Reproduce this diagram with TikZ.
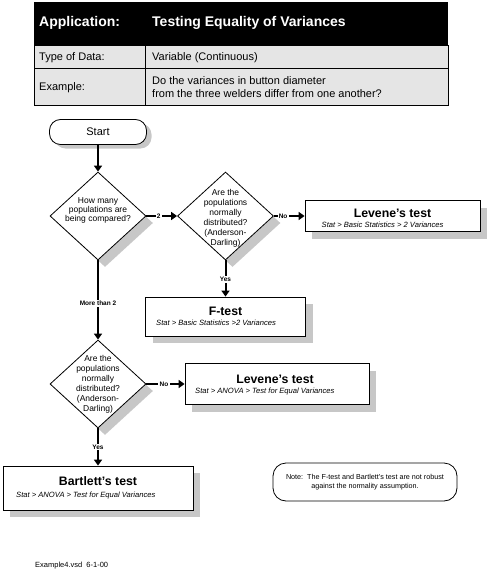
\documentclass[tikz,border=0pt]{standalone}
\usepackage{fontspec}
\setmainfont{Liberation Sans}
\usetikzlibrary{shapes.geometric,arrows.meta,shadows}
\newcommand{\sq}{\char"27\relax}
\begin{document}
\begin{tikzpicture}[x=1pt,y=-1pt,
  hdr/.style={text=white,font=\bfseries\fontsize{14}{16}\selectfont,inner sep=0pt},
  rowtxt/.style={font=\fontsize{11}{13.5}\selectfont,inner sep=0pt,align=left},
  shad/.style={general shadow={fill=black!22,shadow xshift=7pt,shadow yshift=-7pt}},
  startbox/.style={draw,fill=white,line width=0.8pt,rounded corners=11pt,minimum width=97pt,minimum height=25pt,inner sep=0pt,
     font=\fontsize{11}{13}\selectfont,general shadow={fill=black!22,shadow xshift=5pt,shadow yshift=-4pt}},
  dia/.style={diamond,draw,fill=white,line width=0.8pt,minimum width=96pt,minimum height=88pt,inner sep=0pt,shad},
  diatxt/.style={font=\fontsize{8.5}{10}\selectfont,align=center,inner sep=0pt},
  resbox/.style={draw,fill=white,line width=0.8pt,inner sep=0pt,shad},
  ttl/.style={font=\bfseries\fontsize{12.3}{14}\selectfont,inner sep=0pt,anchor=base},
  sub/.style={font=\itshape\fontsize{7.6}{9}\selectfont,inner sep=0pt,anchor=base west},
  lbl/.style={font=\bfseries\fontsize{6.5}{7}\selectfont,fill=white,inner sep=1.2pt},
  arr/.style={line width=2pt,-{Triangle[length=6pt,width=8pt]}},
  notebox/.style={draw,line width=0.8pt,rounded corners=13pt,minimum width=184pt,minimum height=38pt,inner sep=0pt,
     align=center,font=\fontsize{7.2}{8.5}\selectfont}
]
\useasboundingbox (0,0) rectangle (490,575);

% header table
\fill[black] (34,2) rectangle (448,45);
\filldraw[fill=black!10,draw=black,line width=0.8pt] (34,45) rectangle (448,68);
\filldraw[fill=black!10,draw=black,line width=0.8pt] (34,68) rectangle (448,105);
\draw[line width=0.8pt] (145.7,45) -- (145.7,105);
\node[hdr,anchor=base west] (happ) at (39,27) {Application:};
\node[hdr,anchor=base west] (htitle) at (152,27) {Testing Equality of Variances};
\node[rowtxt,anchor=base west] (ltype) at (39,60.5) {Type of Data:};
\node[rowtxt,anchor=base west] (vtype) at (152,60.5) {Variable (Continuous)};
\node[rowtxt,anchor=base west] (lex) at (39,90.5) {Example:};
\node[rowtxt,anchor=west] (vex) at (152,87) {Do the variances in button diameter\\from the three welders differ from one another?};

% flowchart
\node[startbox] (start) at (98,132) {Start};
\node[dia] (d1) at (98,216) {};
\node[diatxt,font=\fontsize{8.5}{9}\selectfont] (d1t) at (98,210) {How many\\populations are\\being compared?};
\node[dia] (d2) at (225.5,216) {};
\node[diatxt] (d2t) at (225.5,218) {Are the\\populations\\normally\\distributed?\\(Anderson-\\Darling)};
\node[resbox,minimum width=175pt,minimum height=31pt] (lev1) at (392.5,216) {};
\node[ttl] (lev1t) at (392.5,217) {Levene\sq s test};
\node[sub] (lev1s) at (321.5,227.5) {Stat > Basic Statistics > 2 Variances};

\node[resbox,minimum width=160pt,minimum height=39pt] (ftest) at (225.5,316.5) {};
\node[ttl] (ftestt) at (225.5,315) {F-test};
\node[sub] (ftests) at (156,325.5) {Stat > Basic Statistics >2 Variances};

\node[dia] (d3) at (98,384) {};
\node[diatxt] (d3t) at (98,384) {Are the\\populations\\normally\\distributed?\\(Anderson-\\Darling)};
\node[resbox,minimum width=184pt,minimum height=41pt] (lev2) at (277,384) {};
\node[ttl] (lev2t) at (275,383) {Levene\sq s test};
\node[sub] (lev2s) at (195,393) {Stat > ANOVA > Test for Equal Variances};

\node[resbox,minimum width=190pt,minimum height=44pt] (bart) at (98,488) {};
\node[ttl] (bartt) at (98,485) {Bartlett\sq s test};
\node[sub] (barts) at (16,497) {Stat > ANOVA > Test for Equal Variances};

\node[notebox] (note) at (365,482) {Note:\ \ The F-test and Bartlett\sq s test are not robust\\against the normality assumption.};

\node[font=\fontsize{7.5}{9}\selectfont,inner sep=0pt,anchor=west] (foot) at (35,565.5) {Example4.vsd\ \ 6-1-00};

% connectors
\draw[arr] (start) -- (d1);
\draw[arr] (d1.east) -- node[lbl,pos=0.4] {2} (d2.west);
\draw[arr] (d2.east) -- node[lbl,pos=0.3] {No} (lev1.west |- d2.east);
\draw[arr] (d2.south) -- node[lbl,pos=0.52] {Yes} (ftest.north);
\draw[arr] (d1.south) -- node[lbl,pos=0.54] {More than 2} (d3.north);
\draw[arr] (d3.east) -- node[lbl,pos=0.46] {No} (lev2.west);
\draw[arr] (d3.south) -- node[lbl,pos=0.5] {Yes} (bart.north);
\end{tikzpicture}
\end{document}
